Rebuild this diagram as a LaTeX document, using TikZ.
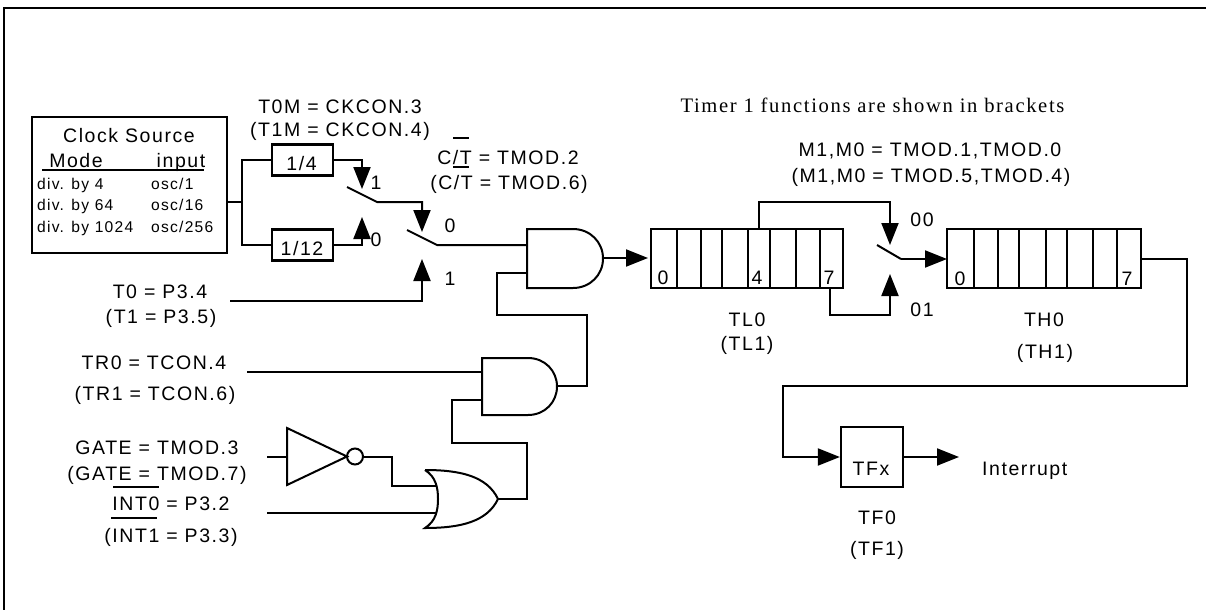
\documentclass[tikz,border=0pt]{standalone}
\usepackage{fontspec}
\setmainfont{Liberation Sans}[LetterSpace=8]
\newfontfamily\notefont{Liberation Serif}[LetterSpace=8]
\usetikzlibrary{arrows.meta}
\newcommand{\lblsize}{\fontsize{19.5}{23}\selectfont}
\newcommand{\smlsize}{\fontsize{15.6}{18}\selectfont}
\tikzset{
  wire/.style={line width=2pt},
  flow/.style={line width=2pt,-{Triangle[length=22pt,width=17pt]}},
  box/.style={draw,line width=2.3pt,inner sep=0pt},
  lbl/.style={inner sep=0pt,text height=14pt,text depth=0pt,font=\lblsize},
  sml/.style={inner sep=0pt,text height=11pt,text depth=0pt,font=\smlsize},
}

\begin{document}
\begin{tikzpicture}[x=1pt,y=-1pt,line join=miter]
    \useasboundingbox (0,0) rectangle (1206,610);
    % frame
    \coordinate (frametr) at (1206,8);
    \coordinate (frametl) at (4,8);
    \coordinate (framebl) at (4,610);
    \draw[line width=2.6pt] (frametr) -- (frametl) -- (framebl);

    % clock source
    \node[box,minimum width=195pt,minimum height=136pt] (clock) at (129.5,185) {};
    \node[lbl] (clocktitle) at (129,135) {Clock Source};
    \node[lbl] (clockmode)  at (76,160) {Mode};
    \node[lbl] (clockinput) at (181,160) {input};
    \draw[wire] (42,170) -- (204,170);
    \node[sml,anchor=west] (rowa)  at (37,184) {div. by 4};
    \node[sml,anchor=west] (rowb)  at (37,205) {div. by 64};
    \node[sml,anchor=west] (rowc)  at (37,227) {div. by 1024};
    \node[sml,anchor=west] (oscla) at (151,184) {osc/1};
    \node[sml,anchor=west] (osclb) at (151,205) {osc/16};
    \node[sml,anchor=west] (osclc) at (151,227) {osc/256};

    % prescalers
    \node[box,minimum width=61pt,minimum height=31pt] (divfour)   at (302.5,160) {};
    \node[box,minimum width=61pt,minimum height=31pt] (divtwelve) at (302.5,245) {};
    \node[lbl] (lblfour)   at (301.5,163) {1/4};
    \node[lbl] (lbltwelve) at (302,248) {1/12};
    \coordinate (clkout) at (227,202);
    \coordinate (clkjoin) at (242,202);
    \draw[wire] (clkout) -- (clkjoin);
    \draw[wire] (divfour.west) -| (clkjoin) |- (divtwelve.west);

    % first switch
    \coordinate (swaone)   at (362,189);
    \coordinate (swazero)  at (362,217);
    \coordinate (swablade) at (347,187);
    \coordinate (swahinge) at (377,202);
    \draw[flow] (divfour.east) -| (swaone);
    \draw[flow] (divtwelve.east) -| (swazero);
    \node[lbl] (swalone)  at (376,182) {1};
    \node[lbl] (swalzero) at (376,239) {0};

    % second switch
    \coordinate (swbzero)  at (422,232);
    \coordinate (swbone)   at (422,259);
    \coordinate (swbblade) at (407,230);
    \coordinate (swbhinge) at (437,245);
    \coordinate (tzero)    at (230,301);
    \draw[flow] (swablade) -- (swahinge) -| (swbzero);
    \draw[flow] (tzero) -| (swbone);
    \node[lbl] (swblzero) at (450,225) {0};
    \node[lbl] (swblone)  at (450,278) {1};

    \node[lbl] (lbltzm)  at (340,106) {T0M = CKCON.3};
    \node[lbl] (lbltom)  at (340,129) {(T1M = CKCON.4)};
    \node[lbl] (lblct)   at (508,157) {C/T = TMOD.2};
    \node[lbl] (lblcto)  at (509,182) {(C/T = TMOD.6)};
    \draw[wire] (453,138) -- (469,138);
    \draw[wire] (453,167) -- (469,167);
    \node[lbl] (lbltz)   at (160,291) {T0 = P3.4};
    \node[lbl] (lblto)   at (161,316) {(T1 = P3.5)};
    \node[lbl] (lbltrz)  at (154,362) {TR0 = TCON.4};
    \node[lbl] (lbltro)  at (155,393) {(TR1 = TCON.6)};
    \node[lbl] (lblgz)   at (157,447) {GATE = TMOD.3};
    \node[lbl] (lblgo)   at (157,473) {(GATE = TMOD.7)};
    \node[lbl] (lblintz) at (171,503) {INT0 = P3.2};
    \node[lbl] (lblinto) at (171,535) {(INT1 = P3.3)};
    \draw[wire] (113,487) -- (159,487);
    \draw[wire] (111,518) -- (157,518);

    % gates
    \draw[wire] (573,229) -- (527,229) -- (527,288) -- (573,288)
      .. controls (590,288) and (603,275) .. (603,258.5)
      .. controls (603,242) and (590,229) .. (573,229);
    \coordinate (andaa) at (527,245);
    \coordinate (andab) at (527,273);
    \coordinate (andaout) at (603,258);
    \coordinate (andatip) at (648,258);
    \draw[wire] (528,358) -- (482,358) -- (482,415) -- (528,415)
      .. controls (545,415) and (557,402) .. (557,386.5)
      .. controls (557,371) and (545,358) .. (528,358);
    \coordinate (andba) at (482,372);
    \coordinate (andbb) at (482,400);
    \coordinate (andbout) at (557,386);
    \coordinate (trzero) at (247,372);
    \draw[wire] (425,470) .. controls (436,477) and (438,488) .. (438,499)
      .. controls (438,510) and (436,521) .. (425,528)
      .. controls (460,528) and (487,522) .. (498,499)
      .. controls (487,476) and (460,470) .. (425,470);
    \coordinate (oraa) at (436,486);
    \coordinate (orab) at (437,513);
    \coordinate (orout) at (498,499);
    \draw[wire] (287,428) -- (347,456.5) -- (287,485) -- cycle;
    \draw[wire] (355,456.5) circle (8);
    \coordinate (notin) at (287,457);
    \coordinate (notout) at (363,457);
    \coordinate (gatein) at (267,457);
    \coordinate (intin) at (267,513);
    \draw[wire] (gatein) -- (notin);
    \draw[wire] (notout) -- (392,457) |- (oraa);
    \draw[wire] (intin) -- (orab);
    \draw[wire] (orout) -- (527,499) |- (452,443) |- (andbb);
    \draw[wire] (trzero) -- (andba);
    \draw[wire] (andbout) -- (587,386) |- (497,315) |- (andab);
    \draw[wire] (swbblade) -- (swbhinge) -- (andaa);

    % timer low
    \node[box,minimum width=192pt,minimum height=59pt] (tlreg) at (747,258.5) {};
    \foreach \x in {677,701,722,748,770,796,820}
      \draw[wire] (\x,229) -- (\x,288);
    \node[lbl] (tlzero)  at (663,277) {0};
    \node[lbl] (tlfour)  at (757,277) {4};
    \node[lbl] (tlseven) at (829,277) {7};
    \node[lbl] (lbltl)  at (747,319) {TL0};
    \node[lbl] (lbltlo) at (747,343) {(TL1)};
    \draw[flow] (andaout) -- (andatip);

    % mode switch
    \coordinate (tlbit)    at (759,229);
    \coordinate (tlbitsev) at (830,288);
    \coordinate (swcdown)  at (890,245);
    \coordinate (swcup)    at (890,274);
    \coordinate (swcblade) at (877,245);
    \coordinate (swchinge) at (901,259);
    \draw[flow] (tlbit) |- (890,202) -- (swcdown);
    \draw[flow] (tlbitsev) |- (890,315) -- (swcup);
    \node[lbl] (lblzz) at (922,219) {00};
    \node[lbl] (lblzo) at (922,309) {01};
    \node[lbl] (lblmm)  at (930,149) {M1,M0 = TMOD.1,TMOD.0};
    \node[lbl] (lblmmo) at (931,175) {(M1,M0 = TMOD.5,TMOD.4)};
    \node[inner sep=0pt,font=\notefont\fontsize{20.6}{24}\selectfont] (lblnote) at (872.5,105) {Timer 1 functions are shown in brackets};

    % timer high
    \node[box,minimum width=194pt,minimum height=59pt] (threg) at (1044,258.5) {};
    \foreach \x in {974,998,1019,1046,1067,1093,1117}
      \draw[wire] (\x,229) -- (\x,288);
    \node[lbl] (thzero)  at (960,278) {0};
    \node[lbl] (thseven) at (1127,278) {7};
    \node[lbl] (lblth)  at (1044,319) {TH0};
    \node[lbl] (lbltho) at (1045,351) {(TH1)};
    \coordinate (thin)  at (947,259);
    \coordinate (thout) at (1141,259);
    \draw[wire] (swcblade) -- (swchinge);
    \draw[flow] (swchinge) -- (thin);

    % overflow flag
    \node[box,minimum width=62pt,minimum height=60pt] (tfx) at (872,457) {};
    \node[lbl] (lbltfx) at (871,468) {TFx};
    \coordinate (irqend) at (959,457);
    \node[lbl,anchor=west] (lblirq) at (982,468) {Interrupt};
    \node[lbl] (lbltf)  at (877,517) {TF0};
    \node[lbl] (lbltfo) at (877,548) {(TF1)};
    \draw[flow] (thout) -- (1187,259) |- (783,386) |- (tfx.west);
    \draw[flow] (tfx.east) -- (irqend);
\end{tikzpicture}
\end{document}
